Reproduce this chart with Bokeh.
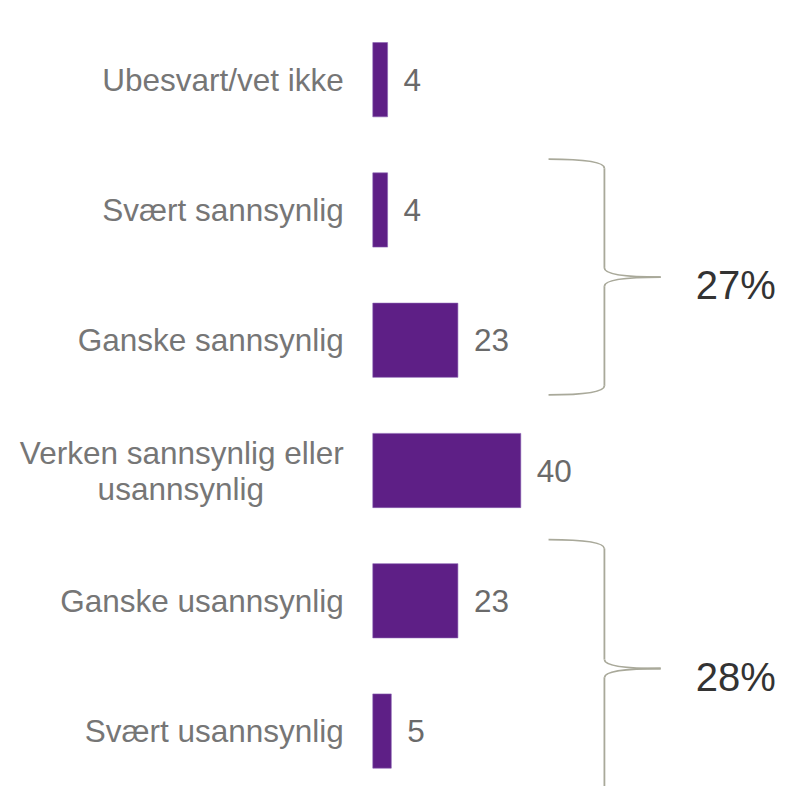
from bokeh.plotting import figure
from bokeh.models import ColumnDataSource, Range1d
from bokeh.core.properties import value
from bokeh.embed import file_html
from bokeh.resources import INLINE

# ---- data ----
categories = [
    "Ubesvart/vet ikke",
    "Svært sannsynlig",
    "Ganske sannsynlig",
    "Verken sannsynlig eller\nusannsynlig",
    "Ganske usannsynlig",
    "Svært usannsynlig",
]
values = [4, 4, 23, 40, 23, 5]
# groups of rows joined by a brace (first row index, last row index)
group_first = [1, 4]
group_last = [2, 5]

# ---- style / layout ----
FONT = "Liberation Sans"
BAR_COLOR = "#5E1F86"
LABEL_COLOR = "#767676"
VALUE_COLOR = "#6A6A6A"
PCT_COLOR = "#333333"
BRACE_COLOR = "#A9A99A"
W, H = 780, 786

p = figure(width=W, height=H, output_backend="svg", toolbar_location=None,
           x_range=Range1d(-100.62, 110.19), y_range=Range1d(5.4257, -0.608),
           min_border=0, outline_line_color=None, background_fill_color="white",
           border_fill_color="white")
p.axis.visible = False
p.grid.visible = False

ys = list(range(len(categories)))
src = ColumnDataSource(dict(y=ys, value=values, label=[str(v) for v in values]))

p.hbar(y="y", left=0, right="value", height=0.57, source=src,
       fill_color=BAR_COLOR, line_color="#8A62B2", line_width=0.6)

# value labels
p.text(x="value", y="y", text="label", source=src, x_offset=16,
       text_align="left", text_baseline="middle", text_font=value(FONT),
       text_font_size="31.5px", text_color=VALUE_COLOR)

# category labels
one_y, one_t = [], []
l1_y, l1_t, l2_y, l2_t = [], [], [], []
for i, c in enumerate(categories):
    parts = c.split("\n")
    if len(parts) == 1:
        one_y.append(i); one_t.append(c)
    else:
        l1_y.append(i); l1_t.append(parts[0])
        l2_y.append(i); l2_t.append(parts[1])
p.text(x=[0] * len(one_y), y=one_y, text=one_t, x_offset=-29,
       text_align="right", text_baseline="middle", text_font=value(FONT),
       text_font_size="31.5px", text_color=LABEL_COLOR)
p.text(x=[0] * len(l1_y), y=l1_y, text=l1_t, x_offset=-29, y_offset=-18,
       text_align="right", text_baseline="middle", text_font=value(FONT),
       text_font_size="31.5px", text_color=LABEL_COLOR)
p.text(x=[0] * len(l2_y), y=l2_y, text=l2_t, x_offset=-192, y_offset=18,
       text_align="center", text_baseline="middle", text_font=value(FONT),
       text_font_size="31.5px", text_color=LABEL_COLOR)

# braces
BR_X0, BR_XV, BR_XT = 47.5, 62.6, 77.8
CURL = 0.07
PAD_TOP = [0.39, 0.47]
PAD_BOT = [0.42, 0.51]
q = dict(x0=[], y0=[], x1=[], y1=[], cx=[], cy=[])
segs = dict(x0=[], y0=[], x1=[], y1=[])
px, py, pt = [], [], []


def addq(x0, y0, x1, y1, cx, cy):
    q["x0"].append(x0); q["y0"].append(y0); q["x1"].append(x1)
    q["y1"].append(y1); q["cx"].append(cx); q["cy"].append(cy)


for g, (a, b) in enumerate(zip(group_first, group_last)):
    top = a - PAD_TOP[g]
    bot = b + PAD_BOT[g]
    mid = (top + bot) / 2
    addq(BR_X0, top, BR_XV, top + CURL, BR_XV, top)
    addq(BR_XV, mid - CURL, BR_XT, mid, BR_XV, mid)
    addq(BR_XT, mid, BR_XV, mid + CURL, BR_XV, mid)
    addq(BR_XV, bot - CURL, BR_X0, bot, BR_XV, bot)
    segs["x0"] += [BR_XV, BR_XV]
    segs["y0"] += [top + CURL, mid + CURL]
    segs["x1"] += [BR_XV, BR_XV]
    segs["y1"] += [mid - CURL, bot - CURL]
    px.append(BR_XT + 9.5)
    py.append(mid)
    pt.append(f"{sum(values[a:b + 1])}%")

p.quadratic(x0="x0", y0="y0", x1="x1", y1="y1", cx="cx", cy="cy",
            source=ColumnDataSource(q), line_color=BRACE_COLOR, line_width=1.8)
p.segment(x0="x0", y0="y0", x1="x1", y1="y1", source=ColumnDataSource(segs),
          line_color=BRACE_COLOR, line_width=1.8)
p.text(x=px, y=py, text=pt, text_align="left", text_baseline="middle",
       y_offset=8, text_font=value(FONT), text_font_size="40px",
       text_color=PCT_COLOR)

open("out.html", "w").write(file_html(p, INLINE))
